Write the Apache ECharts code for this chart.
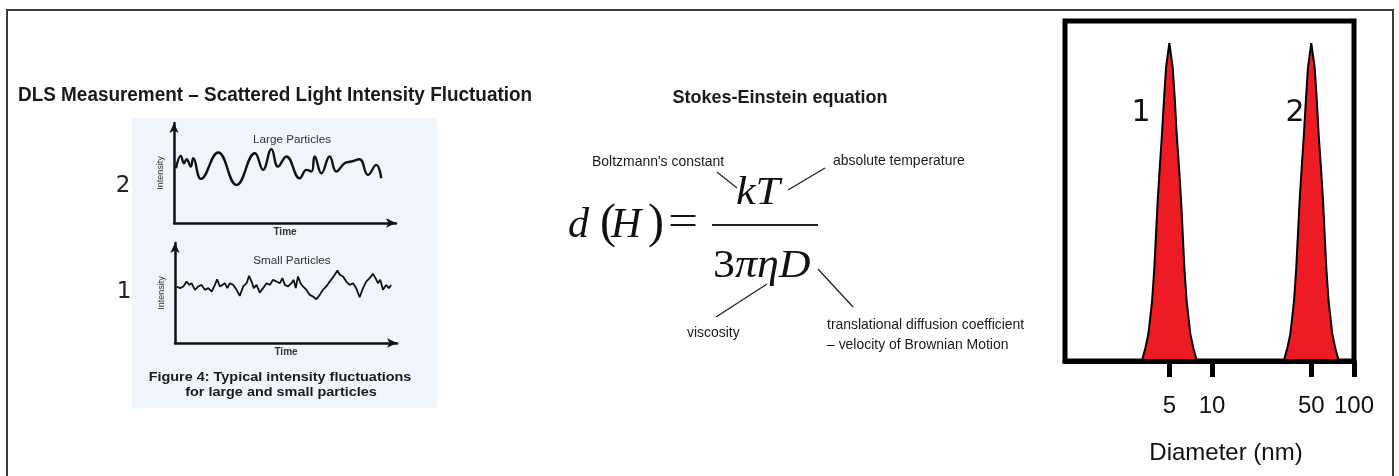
<!DOCTYPE html>
<html>
<head>
<meta charset="utf-8">
<title>DLS</title>
<script src="https://cdn.jsdelivr.net/npm/echarts@6/dist/echarts.min.js"></script>
<style>
  html, body { margin: 0; padding: 0; background: #fff; }
  #main { width: 1399px; height: 476px; }
</style>
</head>
<body>
<div id="main"></div>
<script>
// intensity traces (time 0-100, intensity 0-100)
var largeTime = [0.9, 3.0, 4.4, 5.6, 7.4, 8.5, 11.9, 19.5, 27.6, 35.7, 39.3, 43.0, 45.9, 49.6, 55.5, 58.5, 60.7, 62.1, 65.1, 68.7, 71.7, 75.3, 78.3, 81.9, 85.6, 89.3, 91.5];
var largeIntensity = [52, 63.8, 56.8, 60.6, 53.6, 61.6, 41.9, 67, 36.2, 66.3, 50.5, 70.2, 53.6, 63.2, 42.5, 50.5, 48.9, 63.2, 47.3, 63.2, 48.9, 56.8, 58.4, 60.6, 45.7, 55.2, 42.5];

var smallTime = [0.7, 2.2, 3.7, 5.1, 6.3, 7.3, 8.8, 10.3, 11.7, 13.2,
  14.7, 16.2, 17.6, 18.6, 19.8, 21, 22, 23.1, 24.2, 25.7,
  27.2, 28.6, 30.1, 31.6, 32.7, 33.8, 34.8, 36, 37.4, 38.9,
  40.4, 41.9, 43.3, 44.8, 46.3, 47.4, 48.5, 49.9, 51.4, 52.4,
  53.3, 54.3, 55.4, 56.5, 58, 59.5, 60.9, 62.4, 63.9, 65.3,
  66.8, 68.3, 69.5, 70.5, 71.7, 72.7, 74.2, 75.6, 77.1, 78.6,
  80, 81.5, 83, 84.4, 85.9, 87.4, 88.5, 89.6, 90.6, 91.8,
  93.2, 94.4, 95.4];
var smallIntensity = [53.7, 52.1, 53.7, 58.4, 55.2, 56.8, 50.5, 53.7, 55.2, 50.5,
  52.1, 48.9, 55.2, 60.6, 53.7, 55.2, 56.8, 52.1, 56.8, 55.2,
  50.5, 44.8, 53.7, 56.8, 63.8, 58.4, 52.1, 55.2, 47.9, 52.1,
  56.8, 55.2, 60, 58.4, 56.8, 61.6, 55.2, 53.7, 56.8, 60,
  52.1, 63.2, 56.8, 53.7, 50.5, 45.7, 44.1, 41.6, 45.7, 50.5,
  53.7, 58.4, 61.6, 64.8, 68.9, 64.8, 63.2, 58.4, 55.2, 56.8,
  52.1, 43.5, 52.1, 58.4, 61.6, 65.7, 61.6, 56.8, 60, 50.5,
  55.2, 52.1, 55.2];

// size distribution, diameter in nm, intensity in % of peak
var peak1Diameter = [3.20, 3.39, 3.56, 3.78, 3.92, 4.03, 4.14, 4.28, 4.44, 4.58, 4.74, 5.0, 5.28, 5.47, 5.63, 5.85, 6.05, 6.21, 6.38, 6.62, 7.03, 7.38, 7.81];
var peak1Intensity = [0, 4.1, 8.5, 18.9, 29.3, 40.1, 50.5, 60.9, 71.6, 82, 92.4, 100, 92.4, 82, 71.6, 60.9, 50.5, 40.1, 29.3, 18.9, 8.5, 4.1, 0];
var peak2Diameter = [32.0, 33.9, 35.6, 37.8, 39.2, 40.3, 41.4, 42.8, 44.4, 45.8, 47.4, 50, 52.8, 54.7, 56.3, 58.5, 60.5, 62.1, 63.8, 66.2, 70.3, 73.8, 78.1];
var peak2Intensity = [0, 4.1, 8.5, 18.9, 29.3, 40.1, 50.5, 60.9, 71.6, 82, 92.4, 100, 92.4, 82, 71.6, 60.9, 50.5, 40.1, 29.3, 18.9, 8.5, 4.1, 0];
var diameterTicks = [5, 10, 50, 100];

var SANS = '"Liberation Sans", Arial, sans-serif';
var SERIF = '"Liberation Serif", "Times New Roman", serif';
var DIGIT = '"DejaVu Sans", sans-serif';

function pairs(xs, ys) {
  return xs.map(function (x, i) { return [x, ys[i]]; });
}

function label(x, y, text, size, o) {
  o = o || {};
  return {
    type: 'text',
    x: x,
    y: y,
    scaleX: o.scaleX || 1,
    z: 100,
    style: {
      text: text,
      fontSize: size,
      fontFamily: o.family || SANS,
      fontWeight: o.weight || 'normal',
      fontStyle: o.italic ? 'italic' : 'normal',
      fill: o.color || '#1a1a1a',
      textAlign: o.align || 'left',
      textVerticalAlign: 'middle'
    }
  };
}

function stroke(x1, y1, x2, y2, w) {
  return {
    type: 'line',
    z: 100,
    shape: { x1: x1, y1: y1, x2: x2, y2: y2 },
    style: { stroke: '#222', lineWidth: w || 1.3 }
  };
}

// axes of the two small intensity/time sketches
function traceX(idx) {
  return {
    type: 'value', gridIndex: idx, min: 0, max: 98,
    name: 'Time', nameLocation: 'middle', nameGap: 4,
    nameTextStyle: { fontSize: 10, fontWeight: 'bold', color: '#333', fontFamily: SANS },
    axisLine: { show: true, symbol: ['none', 'arrow'], symbolSize: [7, 10], lineStyle: { color: '#111', width: 2.5 } },
    axisTick: { show: false }, axisLabel: { show: false }, splitLine: { show: false }
  };
}
function traceY(idx) {
  return {
    type: 'value', gridIndex: idx, min: 0, max: 95,
    name: 'Intensity', nameLocation: 'middle', nameGap: 9,
    nameTextStyle: { fontSize: 9, color: '#333', fontFamily: SANS },
    axisLine: { show: true, symbol: ['none', 'arrow'], symbolSize: [7, 10], lineStyle: { color: '#111', width: 2.5 } },
    axisTick: { show: false }, axisLabel: { show: false }, splitLine: { show: false }
  };
}

var graphicEls = [
  // outer frame + faint scan background
  { type: 'rect', z: 50, shape: { x: 7, y: 10, width: 1386, height: 480 }, style: { fill: 'none', stroke: '#3a3a3a', lineWidth: 2 } },
  { type: 'rect', z: -10, shape: { x: 132, y: 118, width: 305, height: 290 }, style: { fill: '#f0f5fb' } },

  // left panel
  label(18, 95, 'DLS Measurement \u2013 Scattered Light Intensity Fluctuation', 20, { weight: 'bold', scaleX: 0.946 }),
  label(292, 140, 'Large Particles', 10, { align: 'center', scaleX: 1.17, color: '#333' }),
  label(292, 261, 'Small Particles', 10, { align: 'center', scaleX: 1.17, color: '#333' }),
  label(280, 377, 'Figure 4: Typical intensity fluctuations', 13, { weight: 'bold', align: 'center', scaleX: 1.11 }),
  label(281, 392, 'for large and small particles', 13, { weight: 'bold', align: 'center', scaleX: 1.11 }),
  label(123, 186, '2', 23, { family: DIGIT, align: 'center', color: '#222' }),
  label(124, 292, '1', 23, { family: DIGIT, align: 'center', color: '#222' }),

  // Stokes-Einstein equation
  label(780, 98, 'Stokes-Einstein equation', 18, { weight: 'bold', align: 'center' }),
  label(568, 226, 'd', 42, { family: SERIF, italic: true, color: '#111' }),
  label(600, 224, '(', 48, { family: SERIF, color: '#111' }),
  label(611, 226, 'H', 42, { family: SERIF, italic: true, color: '#111' }),
  label(648, 224, ')', 48, { family: SERIF, color: '#111' }),
  label(668, 222.6, '=', 42, { family: SERIF, scaleX: 1.27, color: '#111' }),
  stroke(712, 225, 818, 225, 2.2),
  label(736, 193.5, 'kT', 40, { family: SERIF, italic: true, scaleX: 1.1, color: '#111' }),
  label(713, 266.5, '3', 40, { family: SERIF, scaleX: 1.1, color: '#111' }),
  label(735, 266.5, '\u03c0\u03b7D', 40, { family: SERIF, italic: true, scaleX: 1.1, color: '#111' }),
  label(592, 162, "Boltzmann's constant", 15, { scaleX: 0.93 }),
  label(833, 161, 'absolute temperature', 15, { scaleX: 0.93 }),
  label(687, 333, 'viscosity', 15, { scaleX: 0.93 }),
  label(827, 325, 'translational diffusion coefficient', 15, { scaleX: 0.93 }),
  label(827, 345, '\u2013 velocity of Brownian Motion', 15, { scaleX: 0.93 }),
  stroke(717, 172, 737, 188),
  stroke(825, 168, 788, 190),
  stroke(767, 284, 716, 317),
  stroke(818, 269, 853, 307),

  // peak numbers
  label(1141, 113, '1', 30, { family: DIGIT, align: 'center', color: '#111' }),
  label(1295, 113, '2', 30, { family: DIGIT, align: 'center', color: '#111' })
];

var chart = echarts.init(document.getElementById('main'), null, { renderer: 'canvas' });
var option = {
  backgroundColor: '#fff',
  animation: false,
  grid: [
    { left: 174, top: 123, width: 222, height: 100, outerBoundsMode: 'none' },
    { left: 175, top: 243, width: 222, height: 100, outerBoundsMode: 'none' },
    { left: 1065, top: 21, width: 289, height: 340, outerBoundsMode: 'none', show: true, borderColor: '#000', borderWidth: 5, backgroundColor: 'transparent' }
  ],
  xAxis: [
    traceX(0),
    traceX(1),
    {
      type: 'log', gridIndex: 2, logBase: 10, min: 0.92, max: 100, z: 10,
      axisLine: { show: true, onZero: false, lineStyle: { color: '#000', width: 5 } },
      axisTick: { show: true, customValues: diameterTicks, length: 16, lineStyle: { color: '#000', width: 5 } },
      minorTick: { show: false },
      axisLabel: { customValues: diameterTicks, margin: 33, fontSize: 24, color: '#111', fontFamily: SANS },
      splitLine: { show: false },
      name: 'Diameter (nm)', nameLocation: 'middle', nameGap: 80,
      nameTextStyle: { fontSize: 24, color: '#111', fontFamily: SANS, padding: [0, 0, 0, 33] }
    }
  ],
  yAxis: [
    traceY(0),
    traceY(1),
    { type: 'value', gridIndex: 2, min: 0, max: 107, show: false }
  ],
  series: [
    {
      name: 'Large Particles', type: 'line', xAxisIndex: 0, yAxisIndex: 0,
      data: pairs(largeTime, largeIntensity), smooth: 0.45, symbol: 'none', silent: true,
      lineStyle: { color: '#111', width: 2.4 }
    },
    {
      name: 'Small Particles', type: 'line', xAxisIndex: 1, yAxisIndex: 1,
      data: pairs(smallTime, smallIntensity), symbol: 'none', silent: true,
      lineStyle: { color: '#111', width: 1.8 }
    },
    {
      name: 'peak 1', type: 'line', xAxisIndex: 2, yAxisIndex: 2,
      data: pairs(peak1Diameter, peak1Intensity), symbol: 'none', silent: true,
      lineStyle: { color: '#000', width: 2 },
      areaStyle: { color: '#ed1c24', opacity: 1 }
    },
    {
      name: 'peak 2', type: 'line', xAxisIndex: 2, yAxisIndex: 2,
      data: pairs(peak2Diameter, peak2Intensity), symbol: 'none', silent: true,
      lineStyle: { color: '#000', width: 2 },
      areaStyle: { color: '#ed1c24', opacity: 1 }
    }
  ],
  graphic: { elements: graphicEls }
};
chart.setOption(option);
</script>
</body>
</html>
